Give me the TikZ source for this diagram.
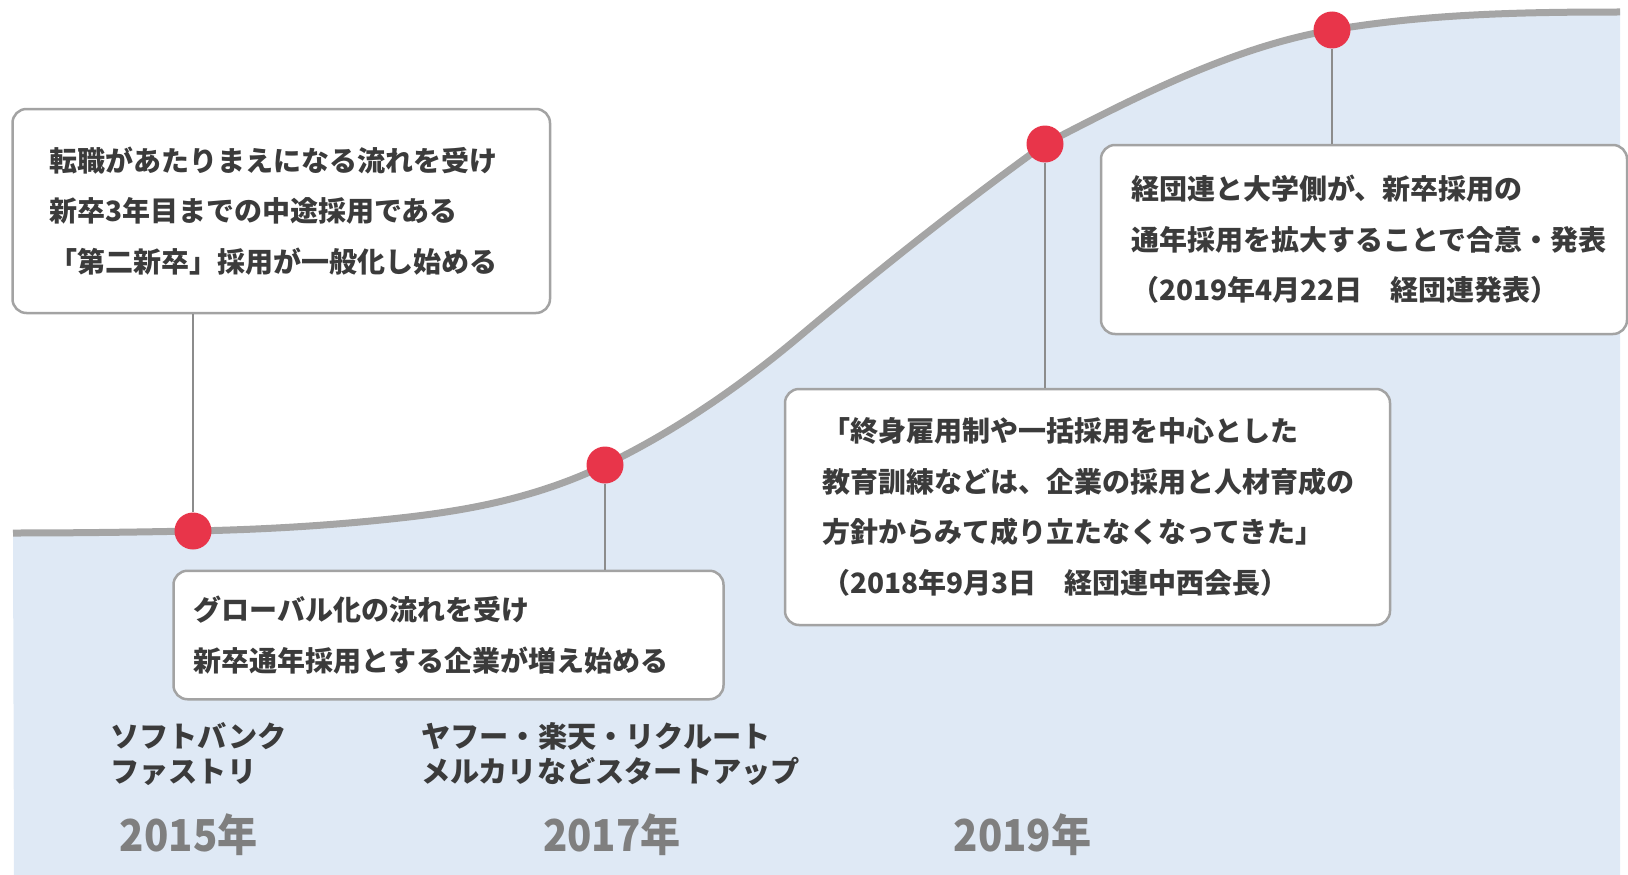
\documentclass[tikz,border=0pt]{standalone}
\usepackage{fontspec}
\setmainfont{Noto Sans CJK JP}
\newfontfamily\yrfont{Noto Sans CJK JP}[FakeStretch=0.91]
\definecolor{bgblue}{HTML}{DFE9F5}
\definecolor{curvegray}{HTML}{A5A5A5}
\definecolor{dotred}{HTML}{E8354A}
\definecolor{boxgray}{HTML}{A3A3A3}
\definecolor{conngray}{HTML}{8C8C8C}
\definecolor{txt}{HTML}{3B3B3B}
\definecolor{yeargray}{HTML}{7F7F7F}
\begin{document}
\begin{tikzpicture}[x=1pt,y=-1pt,
  box/.style={draw=boxgray, line width=2.5pt, fill=white, rounded corners=14pt,
    align=left, font=\bfseries\fontsize{28}{50.5}\selectfont, text=txt, inner ysep=0pt},
  dot/.style={circle, fill=dotred, minimum size=37pt, inner sep=0pt},
  conn/.style={draw=conngray, line width=1.5pt},
  lbl/.style={font=\bfseries\fontsize{29.2}{35}\selectfont, text=txt, align=left, inner sep=0pt, anchor=west},
  yr/.style={font=\yrfont\bfseries\fontsize{44}{44}\selectfont, text=yeargray, inner sep=0pt}]
\useasboundingbox (0,0) rectangle (1628,875);
% area under the curve
\fill[bgblue] (13,533) .. controls (73,533) and (133,532.2) .. (193,531)
  .. controls (262,529.62) and (331,525.59) .. (400,518)
  .. controls (468.33,510.48) and (536.67,497.8) .. (605,465)
  .. controls (670,433.8) and (735,390.6) .. (800,336)
  .. controls (881.67,267.4) and (963.33,202.8) .. (1045,144)
  .. controls (1140.67,94.25) and (1236.33,46.26) .. (1332,30)
  .. controls (1428,13.68) and (1524,12) .. (1620,12)
  -- (1620,875) -- (14,875) -- cycle;
% the curve
\draw[curvegray, line width=7pt] (13,533) .. controls (73,533) and (133,532.2) .. (193,531)
  .. controls (262,529.62) and (331,525.59) .. (400,518)
  .. controls (468.33,510.48) and (536.67,497.8) .. (605,465)
  .. controls (670,433.8) and (735,390.6) .. (800,336)
  .. controls (881.67,267.4) and (963.33,202.8) .. (1045,144)
  .. controls (1140.67,94.25) and (1236.33,46.26) .. (1332,30)
  .. controls (1428,13.68) and (1524,12) .. (1620,12);
% boxes
\node[box, minimum width=537.5pt, minimum height=204pt, inner xsep=36.5pt, text width=464.5pt] (b1) at (281.25,211)
  {転職があたりまえになる流れを受け\\新卒3年目までの中途採用である\\「第二新卒」採用が一般化し始める};
\node[box, minimum width=550pt, minimum height=128.5pt, inner xsep=20pt, text width=510pt] (b2) at (448.5,635)
  {グローバル化の流れを受け\\新卒通年採用とする企業が増え始める};
\node[box, minimum width=605pt, minimum height=236pt, inner xsep=37pt, text width=531pt] (b3) at (1087.5,507)
  {「終身雇用制や一括採用を中心とした\\教育訓練などは、企業の採用と人材育成の\\方針からみて成り立たなくなってきた」\\（2018年9月3日　経団連中西会長）};
\node[box, minimum width=526pt, minimum height=189pt, inner xsep=30pt, text width=466pt] (b4) at (1364,239.5)
  {経団連と大学側が、新卒採用の\\通年採用を拡大することで合意・発表\\（2019年4月22日　経団連発表）};
% dots
\node[dot] (d1) at (193,531) {};
\node[dot] (d2) at (605,465) {};
\node[dot] (d3) at (1045,144) {};
\node[dot] (d4) at (1332,30) {};
% connectors
\draw[conn] (d1.north) -- (d1.north |- b1.south);
\draw[conn] (d2.south) -- (d2.south |- b2.north);
\draw[conn] (d3.south) -- (d3.south |- b3.north);
\draw[conn] (d4.south) -- (d4.south |- b4.north);
% company labels
\node[lbl] (l1) at (110,754) {ソフトバンク\\ファストリ};
\node[lbl] (l2) at (421,754) {ヤフー・楽天・リクルート\\メルカリなどスタートアップ};
% years
\node[yr] (y1) at (188.7,835) {2015年};
\node[yr] (y2) at (612,835) {2017年};
\node[yr] (y3) at (1022.5,835) {2019年};
\end{tikzpicture}
\end{document}
